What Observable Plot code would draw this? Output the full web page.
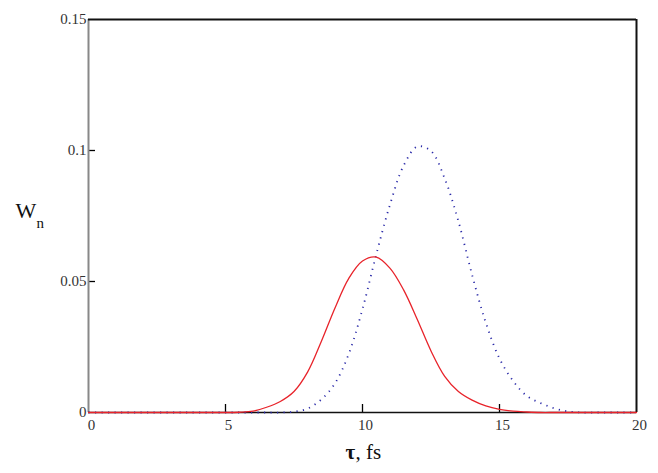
<!DOCTYPE html>
<html><head><meta charset="utf-8">
<script src="https://cdn.jsdelivr.net/npm/d3@7"></script>
<script src="https://cdn.jsdelivr.net/npm/@observablehq/plot@0.6"></script>
<style>body{margin:0;background:#fff} svg text{font-family:"Liberation Serif","Times New Roman",serif}</style>
</head><body><div id="chart"></div>
<script>
const tau = [0,0.5,1,1.5,2,2.5,3,3.5,4,4.5,5,5.5,6,6.5,7,7.5,8,8.5,9,9.5,10,10.5,11,11.5,12,12.5,13,13.5,14,14.5,15,15.5,16,16.5,17,17.5,18,18.5,19,19.5,20];
const wRed = [0,0,0,0,0,0,0,0,0,0,0,
  0.0001,0.0005,0.0020,0.0042,0.0080,0.0155,0.0272,0.0400,0.0512,0.0578,0.0593,0.0551,0.0468,0.0355,0.0235,0.0138,0.0080,0.0047,0.0025,0.0012,0.0005,0.0002,
  0,0,0,0,0,0,0,0];
const wBlue = [0,0,0,0,0,0,0,0,0,0,0,0,0,0,
  0,0.0003,0.0015,0.0050,0.0112,0.0224,0.0395,0.0602,0.0792,0.0942,0.1015,0.0998,0.0893,0.0730,0.0525,0.0343,0.0206,0.0120,0.0063,0.0036,0.0016,0.0004,
  0,0,0,0,0];
const xTicks = [0,5,10,15,20];
const yTicks = [0,0.05,0.1,0.15];
const innerX = [5,10,15];
const innerY = [0.05,0.1];
const yLabel = ["W"];
const yLabelSub = ["n"];
const xLabelSym = ["τ"];
const xLabelUnit = [", fs"];

const data = tau.map((t,i)=>({t, red: wRed[i], blue: wBlue[i]}));
const serif = "Liberation Serif";
const W = 658, H = 473, mL = 88, mR = 22, mT = 19, mB = 61;
const innerW = W - mL - mR, innerH = H - mT - mB;

const chart = Plot.plot({
  width: W, height: H,
  marginLeft: mL, marginRight: mR, marginTop: mT, marginBottom: mB,
  style: {fontFamily: serif, fontSize: "15px", background: "#fff", color: "#222"},
  x: {domain: [0,20]},
  y: {domain: [0,0.15]},
  marks: [
    Plot.axisX({ticks: xTicks, tickSize: 0, tickPadding: 7, dx: 3, label: null, fontSize: 15, fontFamily: serif, fill: "#333"}),
    Plot.axisY({ticks: yTicks, tickSize: 0, tickPadding: 2, label: null, tickFormat: d => String(d), fontSize: 15, fontFamily: serif, fill: "#333"}),
    Plot.ruleX(innerX, {stroke: "#000", strokeWidth: 1.3, insetTop: innerH - 8}),
    Plot.ruleY(innerY, {stroke: "#000", strokeWidth: 1.3, insetRight: innerW - 7}),
    Plot.ruleX([0], {stroke: "#888", strokeWidth: 2}),
    Plot.ruleX([20], {stroke: "#111", strokeWidth: 2}),
    Plot.ruleY([0.15], {stroke: "#111", strokeWidth: 2}),
    Plot.ruleY([0], {stroke: "#111", strokeWidth: 1.5}),
    Plot.line(data, {x: "t", y: "blue", stroke: "#2a2aa8", strokeWidth: 1.8, strokeDasharray: "1.2,5.3", strokeLinecap: "butt", curve: "catmull-rom"}),
    Plot.line(data, {x: "t", y: "red", stroke: "#e8232a", strokeWidth: 1.3, curve: "catmull-rom"}),
    Plot.text(yLabel, {text: d => d, frameAnchor: "left", textAnchor: "start", dx: -73, dy: -5, fontSize: 22, fontFamily: serif, fill: "#111"}),
    Plot.text(yLabelSub, {text: d => d, frameAnchor: "left", textAnchor: "start", dx: -52, dy: 7, fontSize: 15, fontFamily: serif, fill: "#111"}),
    Plot.text(xLabelSym, {text: d => d, frameAnchor: "bottom-left", textAnchor: "start", lineAnchor: "bottom", dx: 257, dy: 46, fontSize: 21, fontWeight: "bold", fontFamily: serif, fill: "#111"}),
    Plot.text(xLabelUnit, {text: d => d, frameAnchor: "bottom-left", textAnchor: "start", lineAnchor: "bottom", dx: 267, dy: 46, fontSize: 21, fontFamily: serif, fill: "#111"})
  ]
});
document.getElementById("chart").append(chart);
</script>
</body></html>
